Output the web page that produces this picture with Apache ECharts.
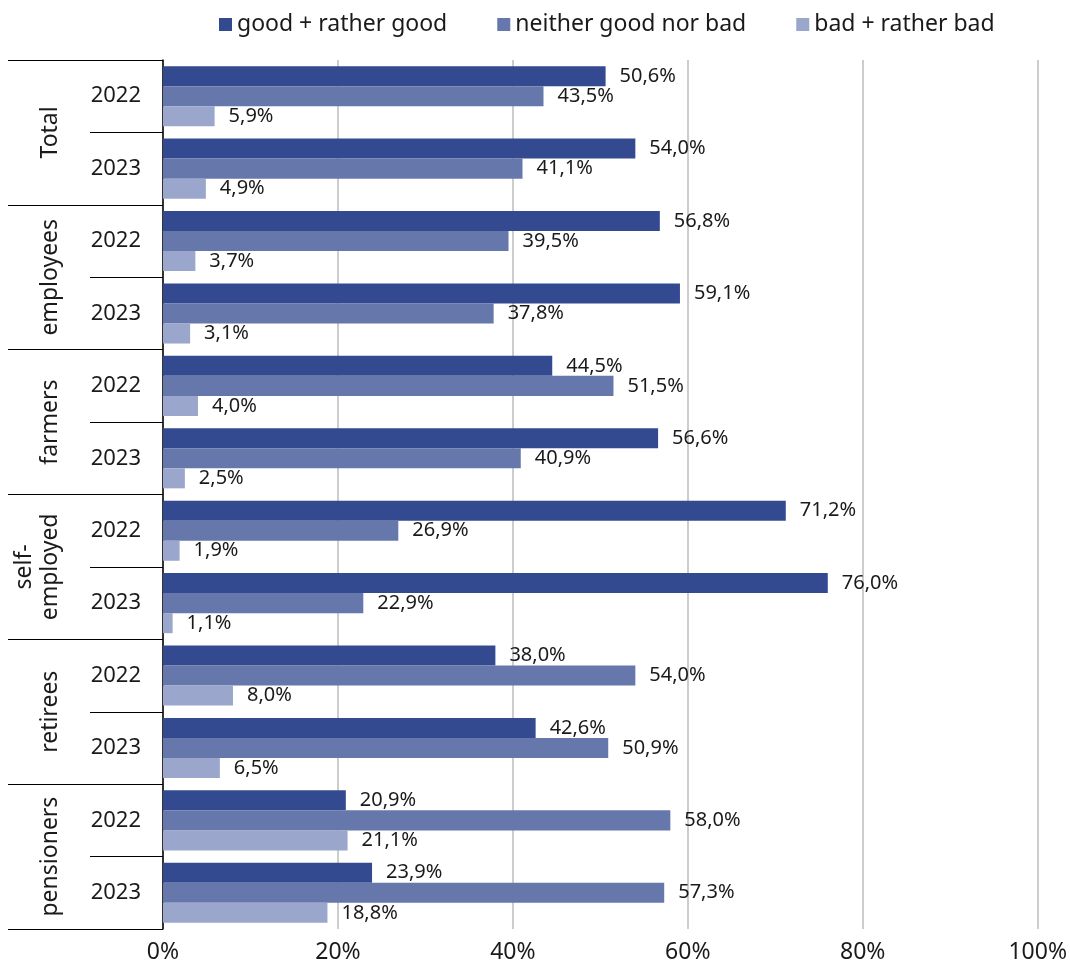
<!DOCTYPE html>
<html>
<head>
<meta charset="utf-8">
<script src="https://cdn.jsdelivr.net/npm/echarts@6/dist/echarts.min.js"></script>
<style>
  html, body { margin: 0; padding: 0; background: #fff; }
  #chart { width: 1070px; height: 969px; }
</style>
</head>
<body>
<div id="chart"></div>
<script>
// Survey groups and years (each group has one row per year)
const groups = ['Total', 'employees', 'farmers', 'self-\nemployed', 'retirees', 'pensioners'];
const years = ['2022', '2023'];

// Shares in percent, one value per row (group x year, in order)
const goodValues    = [50.6, 54.0, 56.8, 59.1, 44.5, 56.6, 71.2, 76.0, 38.0, 42.6, 20.9, 23.9];
const neitherValues = [43.5, 41.1, 39.5, 37.8, 51.5, 40.9, 26.9, 22.9, 54.0, 50.9, 58.0, 57.3];
const badValues     = [ 5.9,  4.9,  3.7,  3.1,  4.0,  2.5,  1.9,  1.1,  8.0,  6.5, 21.1, 18.8];

const seriesNames = ['good + rather good', 'neither good nor bad', 'bad + rather bad'];
const colors = ['#334a91', '#6677ab', '#9aa6cb'];

const xTicks = [0, 20, 40, 60, 80, 100];

const FONT = 'Noto Sans';
const TEXT = '#1a1a1a';

// Row keys are unique per group/year; the axis only shows the year part
const rows = [];
groups.forEach(g => years.forEach(y => rows.push(g + '|' + y)));

const fmtPct = v => v.toFixed(1).replace('.', ',') + '%';

const chart = echarts.init(document.getElementById('chart'), null, { renderer: 'canvas' });

function barSeries(name, values, color) {
  return {
    name: name,
    type: 'bar',
    yAxisIndex: 0,
    data: values,
    barGap: '0%',
    barCategoryGap: '17%',
    itemStyle: { color: color },
    label: {
      show: true,
      position: 'right',
      distance: 14,
      fontFamily: FONT,
      fontSize: 20,
      color: TEXT,
      formatter: p => fmtPct(p.value)
    },
    emphasis: { disabled: true }
  };
}

chart.setOption({
  animation: false,
  textStyle: { fontFamily: FONT },
  legend: {
    top: 8,
    left: 214,
    icon: 'rect',
    itemWidth: 13,
    itemHeight: 13,
    itemGap: 50,
    textStyle: { fontFamily: FONT, fontSize: 23, color: TEXT },
    data: seriesNames
  },
  grid: { left: 163, right: 30, top: 60, bottom: 40, containLabel: false },
  xAxis: {
    type: 'value',
    min: xTicks[0],
    max: xTicks[xTicks.length - 1],
    interval: xTicks[1] - xTicks[0],
    axisLine: { show: false },
    axisTick: { show: false },
    splitLine: { show: true, lineStyle: { color: '#bdbdbd', width: 1.5 } },
    axisLabel: {
      fontFamily: FONT,
      fontSize: 23,
      color: TEXT,
      margin: 12,
      formatter: v => v + '%'
    }
  },
  yAxis: [
    {
      type: 'category',
      inverse: true,
      data: rows,
      axisLine: { show: true, lineStyle: { color: '#000', width: 1.5 } },
      axisTick: { show: true, length: 73, alignWithLabel: false, lineStyle: { color: '#000', width: 1 } },
      axisLabel: {
        fontFamily: FONT,
        fontSize: 22,
        color: TEXT,
        margin: 22,
        formatter: v => v.split('|')[1]
      },
      splitLine: { show: false }
    },
    {
      type: 'category',
      inverse: true,
      position: 'left',
      data: groups,
      axisLine: { show: false },
      axisTick: { show: true, length: 155, alignWithLabel: false, lineStyle: { color: '#000', width: 1 } },
      axisLabel: {
        rotate: 90,
        fontFamily: FONT,
        fontSize: 23,
        lineHeight: 26,
        color: TEXT,
        margin: 100,
        interval: 0
      },
      splitLine: { show: false }
    }
  ],
  series: [
    barSeries(seriesNames[0], goodValues, colors[0]),
    barSeries(seriesNames[1], neitherValues, colors[1]),
    barSeries(seriesNames[2], badValues, colors[2])
  ]
});
</script>
</body>
</html>
